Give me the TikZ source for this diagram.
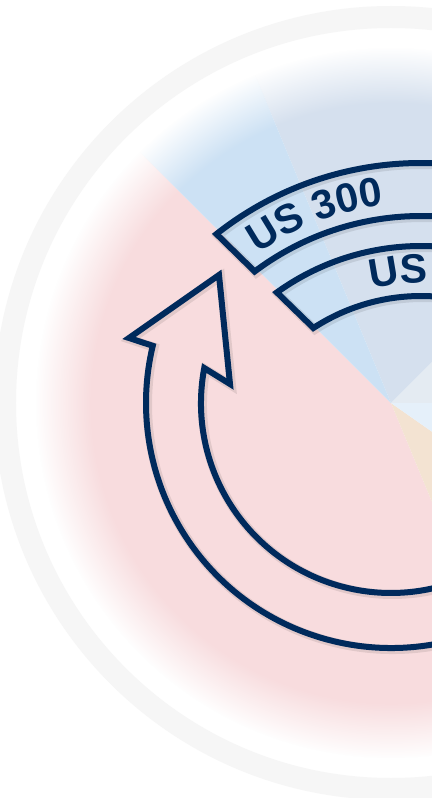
\documentclass[tikz,border=0pt]{standalone}
\usepackage{fontspec}
\setsansfont{Liberation Sans}
\usetikzlibrary{fadings}
\definecolor{navy}{RGB}{0,42,92}
\definecolor{ringgray}{RGB}{246,246,246}
\definecolor{pinkw}{RGB}{248,220,222}
\definecolor{lblue}{RGB}{204,225,244}
\definecolor{gblue}{RGB}{213,224,238}
\definecolor{wgray}{RGB}{228,235,242}
\definecolor{vlblue}{RGB}{229,240,250}
\definecolor{beige}{RGB}{243,227,210}
\pgfdeclareradialshading{discfadeshade}{\pgfpointorigin}{color(0bp)=(white); color(21bp)=(white); color(25bp)=(black); color(50bp)=(black)}
\pgfdeclarefading{discfade}{\pgfuseshading{discfadeshade}}
\newcommand{\bandfont}{\sffamily\bfseries\fontsize{41}{41}\selectfont}
\tikzset{
  bandline/.style={draw=navy, line width=6pt, line join=miter},
  shadowline/.style={draw=black, opacity=0.09, line width=9pt, line join=miter},
  bandchar/.style={text=navy, font=\bandfont, anchor=base, inner sep=0pt}
}
\begin{document}
\begin{tikzpicture}[x=1pt,y=1pt]
\useasboundingbox (-391,-395) rectangle (41,403);
\clip (-391,-395) rectangle (41,403);
\fill[white] (-391,-395) rectangle (41,403);
% outer gray ring
\fill[ringgray, even odd rule] (0,0) circle (397) circle (375);
% wedges
\foreach \a/\b/\c in {135/292.5/pinkw, 292.5/325/beige, 325/360/vlblue, 0/45/wgray, 45/112.5/gblue, 112.5/135/lblue}{
  \begin{scope}
    \clip (0,0) -- (\a:420) arc[start angle=\a, end angle=\b, radius=420] -- cycle;
    \fill[\c, path fading=discfade] (0,0) circle (355);
  \end{scope}
}
\coordinate (c) at (0,0);
\coordinate (b) at (30,-90);
% shadows
\begin{scope}[shift={(1.5,-1.5)}]
\path[shadowline] ([shift={(b)}]128.3:330) arc[start angle=128.3, end angle=50, radius=330] -- ([shift={(b)}]50:277) arc[start angle=50, end angle=126.9, radius=277] -- cycle;
\path[shadowline] ([shift={(b)}]125.7:247) arc[start angle=125.7, end angle=50, radius=247] -- ([shift={(b)}]50:197) arc[start angle=50, end angle=123.1, radius=197] -- cycle;
\path[shadowline] (-60:245) arc[start angle=-60, end angle=-193.5, radius=245] -- (-262,65) -- (-172,128) -- (-161,19) -- (169.4:190) arc[start angle=169.4, end angle=300, radius=190] -- cycle;
\end{scope}
% band 1
\path[bandline] ([shift={(b)}]128.3:330) arc[start angle=128.3, end angle=50, radius=330] -- ([shift={(b)}]50:277) arc[start angle=50, end angle=126.9, radius=277] -- cycle;
% band 2
\path[bandline] ([shift={(b)}]125.7:247) arc[start angle=125.7, end angle=50, radius=247] -- ([shift={(b)}]50:197) arc[start angle=50, end angle=123.1, radius=197] -- cycle;
% labels, band 1
\foreach \ch/\ang [count=\i] in {U/121.38, S/115.75, 3/108.54, 0/104.04, 0/99.53}{
  \node[bandchar, rotate=\ang-90] (t1\i) at ([shift={(b)}]\ang:290) {\ch};
}
% labels, band 2
\foreach \ch/\ang [count=\i] in {U/99.66, S/91.89}{
  \node[bandchar, rotate=\ang-90] (t2\i) at ([shift={(b)}]\ang:210) {\ch};
}
% curved arrow
\path[bandline] (-60:245) arc[start angle=-60, end angle=-193.5, radius=245] -- (-262,65) -- (-172,128) -- (-161,19) -- (169.4:190) arc[start angle=169.4, end angle=300, radius=190] -- cycle;
\end{tikzpicture}
\end{document}
